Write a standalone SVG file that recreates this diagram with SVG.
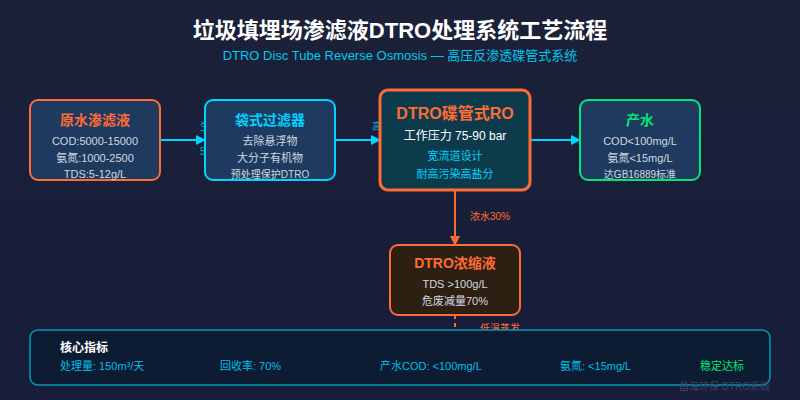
<svg xmlns="http://www.w3.org/2000/svg" width="800" height="400" viewBox="0 0 800 400">
<defs>
<linearGradient id="bg" x1="0" y1="0" x2="0" y2="1"><stop offset="0" stop-color="#1b2138"/><stop offset="1" stop-color="#171d3a"/></linearGradient>
<marker id="ac" markerWidth="10" markerHeight="10" refX="9" refY="5" orient="auto" markerUnits="userSpaceOnUse"><path d="M0,0 L10,5 L0,10 Z" fill="#00d4ff"/></marker>
<marker id="ao" markerWidth="10" markerHeight="10" refX="9" refY="5" orient="auto" markerUnits="userSpaceOnUse"><path d="M0,0 L10,5 L0,10 Z" fill="#ff6b35"/></marker>
</defs>
<style>
text{font-family:"Liberation Sans","Noto Sans CJK SC",sans-serif;text-anchor:middle}
.t{font-size:14px;font-weight:bold}
.b{font-size:11px;fill:#d0d8e0}
.c{font-size:11px;fill:#00d4ff}
.s{font-size:10px}
.l{font-size:10px}
.m{font-size:11px;text-anchor:start}
</style>
<rect width="800" height="400" fill="url(#bg)"/>
<text x="400" y="38" font-size="22" font-weight="bold" fill="#ffffff">垃圾填埋场渗滤液DTRO处理系统工艺流程</text>
<text x="400" y="60" font-size="13" fill="#00c8f0">DTRO Disc Tube Reverse Osmosis — 高压反渗透碟管式系统</text>
<g id="connectors">
<line x1="160" y1="140" x2="205" y2="140" stroke="#00d4ff" stroke-width="2" marker-end="url(#ac)"/>
<text class="l" x="200" y="130" fill="#00aadd" style="text-anchor:start">生化出水</text>
<text class="l" x="200" y="155" fill="#00aadd" style="text-anchor:start">5μm</text>
<line x1="335" y1="140" x2="380" y2="140" stroke="#00d4ff" stroke-width="2" marker-end="url(#ac)"/>
<text class="l" x="372" y="130" fill="#00aadd" style="text-anchor:start">高压泵</text>
<line x1="530" y1="140" x2="580" y2="140" stroke="#00d4ff" stroke-width="2" marker-end="url(#ac)"/>
<line x1="455" y1="190" x2="455" y2="245" stroke="#ff6b35" stroke-width="2" marker-end="url(#ao)"/>
<text class="l" x="490" y="220" fill="#ff6b35">浓水30%</text>
<line x1="455" y1="315" x2="455" y2="335" stroke="#ff6b35" stroke-width="2" stroke-dasharray="4,4"/>
<text class="l" x="480" y="332" fill="#ff6b35" style="text-anchor:start">低温蒸发</text>
</g>
<g id="n1"><rect x="30" y="100" width="130" height="80" rx="8" fill="#1e3a5f" stroke="#ff6b35" stroke-width="2"/>
<text class="t" x="95" y="125" fill="#ff6b35">原水渗滤液</text>
<text class="b" x="95" y="145">COD:5000-15000</text><text class="b" x="95" y="162">氨氮:1000-2500</text><text class="b" x="95" y="178">TDS:5-12g/L</text></g>
<g id="n2"><rect x="205" y="100" width="130" height="80" rx="8" fill="#1e3a5f" stroke="#00d4ff" stroke-width="2"/>
<text class="t" x="270" y="125" fill="#00d4ff">袋式过滤器</text>
<text class="b" x="270" y="145">去除悬浮物</text><text class="b" x="270" y="162">大分子有机物</text><text class="b s" x="270" y="178">预处理保护DTRO</text></g>
<g id="n3"><rect x="380" y="90" width="150" height="100" rx="8" fill="#0e3b4c" stroke="#ff6b35" stroke-width="3"/>
<text x="455" y="119" font-size="16" font-weight="bold" fill="#ff6b35">DTRO碟管式RO</text>
<text x="455" y="140" font-size="12" fill="#ffffff">工作压力 75-90 bar</text>
<text class="c" x="455" y="160">宽流道设计</text><text class="c" x="455" y="178">耐高污染高盐分</text></g>
<g id="n4"><rect x="580" y="100" width="120" height="80" rx="8" fill="#1e3a5f" stroke="#00e676" stroke-width="2"/>
<text class="t" x="640" y="125" fill="#00e676">产水</text>
<text class="b" x="640" y="145">COD&lt;100mg/L</text><text class="b" x="640" y="162">氨氮&lt;15mg/L</text><text class="b s" x="640" y="178">达GB16889标准</text></g>
<g id="n5"><rect x="390" y="245" width="130" height="70" rx="8" fill="#2d2012" stroke="#ff6b35" stroke-width="2"/>
<text class="t" x="455" y="268" fill="#ff6b35">DTRO浓缩液</text>
<text class="b" x="455" y="288">TDS &gt;100g/L</text><text class="b" x="455" y="305">危废减量70%</text></g>
<g id="panel"><rect x="30" y="330" width="740" height="55" rx="8" fill="#0d1c32" stroke="#0099bb" stroke-width="1.5"/>
<text x="60" y="352" font-size="12" font-weight="bold" fill="#ffffff" style="text-anchor:start">核心指标</text>
<text class="m" x="60" y="370" fill="#00bfe8">处理量: 150m³/天</text>
<text class="m" x="220" y="370" fill="#00bfe8">回收率: 70%</text>
<text class="m" x="380" y="370" fill="#00bfe8">产水COD: &lt;100mg/L</text>
<text class="m" x="560" y="370" fill="#00bfe8">氨氮: &lt;15mg/L</text>
<text class="m" x="700" y="370" fill="#00e676">稳定达标</text></g>
<text x="770" y="390" font-size="10" fill="#3a4560" style="text-anchor:end">昌海环保 DTRO系统</text>
</svg>
